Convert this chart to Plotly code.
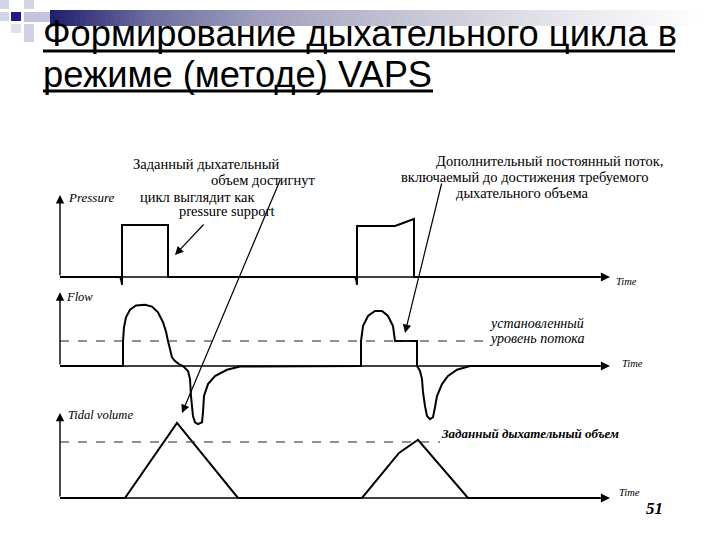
import plotly.graph_objects as go

W, H = 720, 540

# ---------------- data ----------------
# time in s, pressure in cmH2O
pressure_t = [0.00, 0.60, 0.615, 0.62, 0.62, 1.08, 1.08, 2.95, 2.965, 2.97, 2.97, 3.35, 3.54, 3.54, 5.40]
pressure_v = [0, 0, -1.5, -3, 20, 20, 0, 0, -1.5, -3, 19.6, 19.6, 22.3, 0, 0]

# flow in L/min
flow_t = [0.00, 0.63, 0.63, 0.64, 0.66, 0.70, 0.76, 0.85, 0.92, 0.98, 1.03, 1.06, 1.08, 1.10, 1.12,
          1.15, 1.19, 1.23, 1.28, 1.30, 1.31, 1.33, 1.35, 1.38, 1.42, 1.43, 1.44, 1.48, 1.55, 1.67,
          1.80, 3.01, 3.01, 3.03, 3.08, 3.15, 3.22, 3.28, 3.33, 3.35, 3.57, 3.57, 3.58, 3.60, 3.62,
          3.63, 3.65, 3.67, 3.70, 3.73, 3.75, 3.77, 3.82, 3.88, 3.97, 4.10, 5.40]
flow_v = [0, 0, 40, 62, 78, 90, 97, 98, 95, 86, 70, 55, 40, 24, 14,
          8, 3, 0, -8, -21, -48, -80, -90, -93, -90, -74, -48, -29, -16, -6,
          -1, 0, 40, 64, 80, 88, 88, 80, 64, 40, 40, 0, -3, -8, -21,
          -42, -64, -80, -85, -82, -66, -48, -29, -16, -6, 0, 0]
flow_set = 40
flow_set_t = [0.0, 4.28]

# tidal volume in mL
volume_t = [0.00, 0.65, 1.17, 1.78, 3.02, 3.39, 3.58, 4.08, 5.40]
volume_v = [0, 0, 670, 0, 0, 402, 520, 0, 0]
volume_set = 500
volume_set_t = [0.0, 3.80]

time_end = 5.5

# ---------------- layout helpers ----------------
def panel(base_px, top_px, bot_px, px_per_unit):
    dom = [1 - bot_px / H, 1 - top_px / H]
    rng = [-(bot_px - base_px) / px_per_unit, (base_px - top_px) / px_per_unit]
    return dict(domain=dom, range=rng, visible=False, fixedrange=True)

def PX(x):
    return x / W

def PY(y):
    return 1 - y / H

LINE = dict(color="black", width=2)
SERIF = "Liberation Serif, Times New Roman, serif"
SANS = "Liberation Sans, Arial, sans-serif"

fig = go.Figure()
fig.add_trace(go.Scatter(x=pressure_t, y=pressure_v, mode="lines", line=LINE, xaxis="x", yaxis="y"))
fig.add_trace(go.Scatter(x=flow_t, y=flow_v, mode="lines", line=LINE, xaxis="x", yaxis="y2"))
fig.add_trace(go.Scatter(x=flow_set_t, y=[flow_set, flow_set], mode="lines",
                         line=dict(color="#222", width=1.2, dash="dash"), xaxis="x", yaxis="y2"))
fig.add_trace(go.Scatter(x=volume_t, y=volume_v, mode="lines", line=LINE, xaxis="x", yaxis="y3"))
fig.add_trace(go.Scatter(x=volume_set_t, y=[volume_set, volume_set], mode="lines",
                         line=dict(color="#222", width=1.2, dash="dash"), xaxis="x", yaxis="y3"))

ann = []
# axis arrows
for yref, top in (("y", 31.5), ("y2", 118), ("y3", 760)):
    ann.append(dict(x=time_end, y=0, ax=0, ay=0, xref="x", yref=yref, axref="x", ayref=yref,
                    text="", showarrow=True, arrowhead=2, arrowsize=1.3, arrowwidth=1.4, arrowcolor="black"))
    ann.append(dict(x=0, y=top, ax=0, ay=0, xref="x", yref=yref, axref="x", ayref=yref,
                    text="", showarrow=True, arrowhead=2, arrowsize=1.2, arrowwidth=1.4, arrowcolor="black"))

def txt(x, y, s, size=13, italic=False, bold=False, family=SERIF, anchor="left"):
    if italic:
        s = "<i>" + s + "</i>"
    if bold:
        s = "<b>" + s + "</b>"
    ann.append(dict(x=PX(x), y=PY(y), xref="paper", yref="paper", text=s, showarrow=False,
                    xanchor=anchor, yanchor="middle", font=dict(family=family, size=size, color="black")))

# axis labels
txt(66, 197, "Pressure", 13, italic=True)
txt(64, 297, "Flow", 12.5, italic=True)
txt(66, 415, "Tidal volume", 12.5, italic=True)
txt(614, 281, "Time", 10.5, italic=True)
txt(620, 363, "Time", 10.5, italic=True)
txt(617, 492, "Time", 10.5, italic=True)

# descriptive texts
txt(131, 164, "Заданный дыхательный", 14.5)
txt(209, 180, "объем достигнут", 14.5)
txt(138, 197, "цикл выглядит как", 14.5)
txt(177, 211, "pressure support", 14.5)
txt(434, 161, "Дополнительный постоянный поток,", 14.5)
txt(399, 177, "включаемый до достижения требуемого", 14.5)
txt(454, 193, "дыхательного объема", 14.5)
txt(487, 323, "установленный", 14, italic=True)
txt(487, 338, "уровень потока", 14, italic=True)
txt(439, 433, "Заданный дыхательный объем", 13, italic=True, bold=True)
txt(644, 508, "51", 17, italic=True, bold=True)

# pointer arrows
for hx, hy, tx, ty in ((175, 255, 205, 223), (182, 413, 281, 178), (405, 333, 442, 182)):
    ann.append(dict(x=PX(hx), y=PY(hy), xref="paper", yref="paper", ax=tx - hx, ay=ty - hy,
                    text="", showarrow=True, arrowhead=2, arrowsize=1.4, arrowwidth=1.2, arrowcolor="black"))

# title
txt(41, 33, "Формирование дыхательного цикла в", 36.3, family=SANS)
txt(41, 74, "режиме (методе) VAPS", 36.3, family=SANS)

shapes = []
# gradient bar at top
stops = [(50, (30, 30, 110)), (150, (110, 110, 160)), (260, (160, 160, 190)), (420, (200, 200, 215)),
         (560, (230, 230, 236)), (700, (255, 255, 255))]
for i in range(len(stops) - 1):
    x0, c0 = stops[i]
    x1, c1 = stops[i + 1]
    n = 20
    for k in range(n):
        f = (k + 0.5) / n
        c = tuple(int(c0[j] + (c1[j] - c0[j]) * f) for j in range(3))
        xa = x0 + (x1 - x0) * k / n
        xb = x0 + (x1 - x0) * (k + 1) / n + 0.6
        shapes.append(dict(type="rect", xref="paper", yref="paper", x0=PX(xa), x1=PX(xb),
                           y0=PY(26), y1=PY(10), line=dict(width=0), fillcolor="rgb(%d,%d,%d)" % c, layer="below"))
# decorative squares
for (x0, y0, x1, y1, col) in ((0, 0, 9, 9, "#d4d4e6"), (24, 0, 34, 9, "#d4d4e6"), (0, 12, 9, 21, "#d4d4e6"),
                              (11, 12, 21, 21, "#1c1c8c"), (24, 12, 50, 22, "#c4c4dc"),
                              (24, 24, 34, 42, "#d0d0e4"), (11, 24, 21, 33, "#e2e2ee")):
    shapes.append(dict(type="rect", xref="paper", yref="paper", x0=PX(x0), x1=PX(x1), y0=PY(y1), y1=PY(y0),
                       line=dict(width=0), fillcolor=col, layer="below"))
# title underlines
shapes.append(dict(type="line", xref="paper", yref="paper", x0=PX(43), x1=PX(675), y0=PY(51), y1=PY(51),
                   line=dict(color="black", width=3)))
shapes.append(dict(type="line", xref="paper", yref="paper", x0=PX(43), x1=PX(433), y0=PY(91), y1=PY(91),
                   line=dict(color="black", width=3)))

fig.update_layout(
    width=W, height=H, margin=dict(l=0, r=0, t=0, b=0),
    paper_bgcolor="white", plot_bgcolor="white", showlegend=False,
    xaxis=dict(range=[-0.6, 6.6], visible=False, fixedrange=True, domain=[0, 1]),
    yaxis=panel(277, 130, 300, 2.6),
    yaxis2=dict(**panel(366, 285, 440, 0.625), anchor="x"),
    yaxis3=dict(**panel(498, 400, 510, 0.112), anchor="x"),
    annotations=ann, shapes=shapes,
)

fig.write_html("out.html", config={"displayModeBar": False},
               post_script="document.body.style.margin='0';")
